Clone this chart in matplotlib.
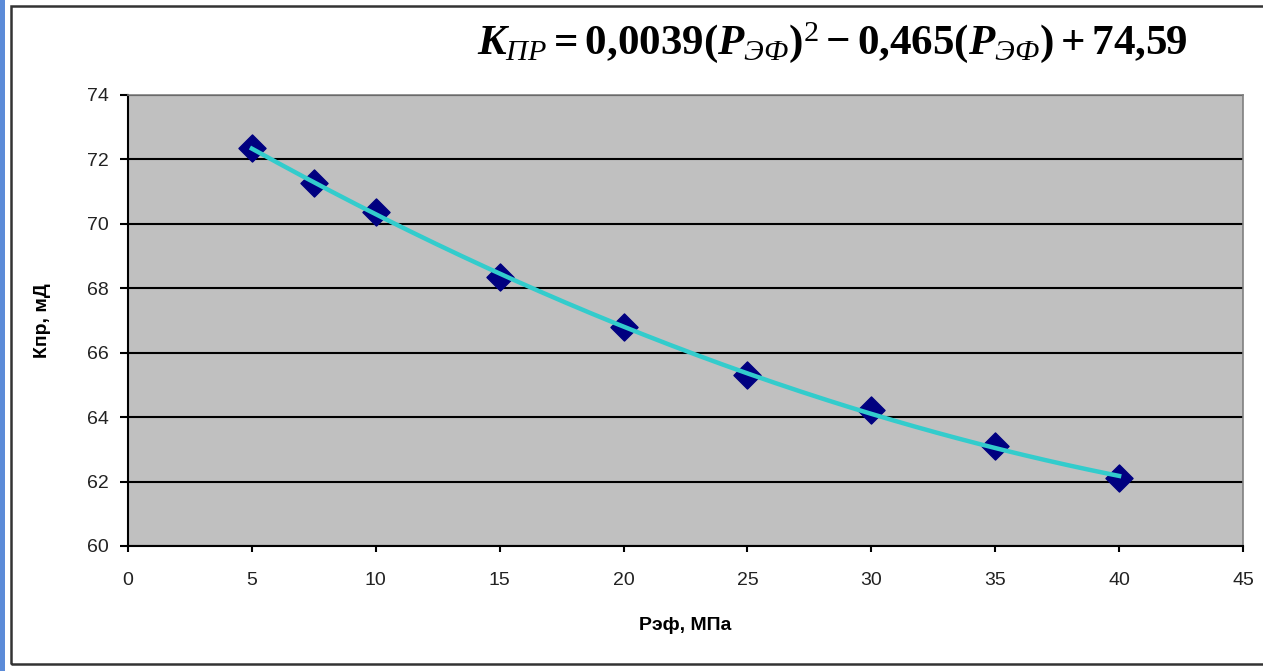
import numpy as np
import matplotlib
matplotlib.use("Agg")
import matplotlib.pyplot as plt
from matplotlib.patches import Rectangle

# Kpr vs effective pressure, with 2nd order trend line

p_eff = [5, 7.5, 10, 15, 20, 25, 30, 35, 40]
k_pr = [72.36, 71.27, 70.37, 68.35, 66.8, 65.3, 64.22, 63.1, 62.1]

x_ticks = [0, 5, 10, 15, 20, 25, 30, 35, 40, 45]
y_ticks = [60, 62, 64, 66, 68, 70, 72, 74]

equation = (r"$K_{\mathcal{ПР}} = 0{,}0039(P_{\mathcal{ЭФ}})^{\mathsf{2}}"
            r" - 0{,}465(P_{\mathcal{ЭФ}}) + 74{,}59$")

plt.rcParams["font.family"] = ["Liberation Sans", "DejaVu Sans"]
plt.rcParams["mathtext.fontset"] = "custom"
plt.rcParams["mathtext.rm"] = "Liberation Serif:bold"
plt.rcParams["mathtext.it"] = "Liberation Serif:italic:bold"
plt.rcParams["mathtext.bf"] = "Liberation Serif:bold"
plt.rcParams["mathtext.cal"] = "Liberation Serif:italic"
plt.rcParams["mathtext.sf"] = "Liberation Serif"

fig = plt.figure(figsize=(12.63, 6.71), dpi=100)
fig.patch.set_facecolor("white")

# blue strip on the left edge and the outer frame
fig.patches.append(Rectangle((0, 0), 5 / 1263, 1, transform=fig.transFigure,
                             facecolor="#5B8BD8", edgecolor="none", zorder=0))
fig.patches.append(Rectangle((11 / 1263, 1 - 664 / 671), 1.1, (664 - 6) / 671,
                             transform=fig.transFigure, facecolor="none",
                             edgecolor="#333333", linewidth=1.8, zorder=1))

ax = fig.add_axes([128 / 1263, 1 - 546 / 671, (1243 - 128) / 1263, (546 - 95) / 671])
ax.set_facecolor("#C0C0C0")

ax.scatter(p_eff, k_pr, marker="D", s=190, color="#000080", zorder=3)

coef = np.polyfit(p_eff, k_pr, 2)
xs = np.linspace(min(p_eff), max(p_eff), 200)
ax.plot(xs, np.polyval(coef, xs), color="#33CCCC", linewidth=3.2, zorder=4)

ax.set_xlim(0, 45)
ax.set_ylim(60, 74)
ax.set_xticks(x_ticks)
ax.set_yticks(y_ticks)
ax.yaxis.grid(True, color="black", linewidth=1.5)
ax.set_axisbelow(True)

for side in ["left", "bottom"]:
    ax.spines[side].set_color("black")
    ax.spines[side].set_linewidth(1.5)
for side in ["top", "right"]:
    ax.spines[side].set_color("#808080")
    ax.spines[side].set_linewidth(1.2)

ax.tick_params(axis="y", direction="out", length=6, width=1.5, pad=8,
               labelsize=14, labelcolor="#222222")
ax.tick_params(axis="x", direction="out", length=4, width=1.5, pad=15,
               labelsize=14, labelcolor="#222222")

ax.set_xlabel("Рэф, МПа", fontsize=14, fontweight="bold", labelpad=20)
ax.set_ylabel("Кпр, мД", fontsize=14, fontweight="bold", labelpad=26)

fig.text(832 / 1263, 1 - 43 / 671, equation, fontsize=31, ha="center", va="center")

fig.savefig("out.png", dpi=100)
